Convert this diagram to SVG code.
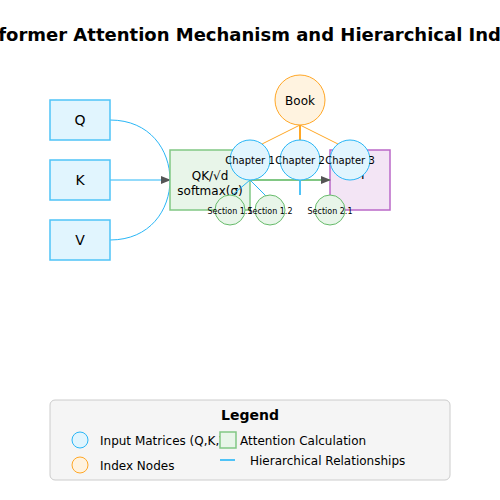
<svg xmlns="http://www.w3.org/2000/svg" width="500" height="500" viewBox="0 0 500 500">
<defs>
<style>
text{font-family:"DejaVu Sans","Liberation Sans",sans-serif;fill:#000}
.title{font-size:18px;font-weight:bold;text-anchor:middle}
.in{fill:#e1f5fe;stroke:#4fc3f7;stroke-width:1.5}
.lbl{font-size:14px;text-anchor:middle}
.att{fill:#e8f5e9;stroke:#81c784;stroke-width:1.5}
.out{fill:#f3e5f5;stroke:#ba68c8;stroke-width:1.5}
.book{fill:#fff3e0;stroke:#ffa726;stroke-width:1}
.ch{fill:#e1f5fe;stroke:#29b6f6;stroke-width:1}
.sec{fill:#e8f5e9;stroke:#66bb6a;stroke-width:1}
.qkv{fill:none;stroke:#29b6f6;stroke-width:1}
.ol{stroke:#ffa726;stroke-width:1}
.bl{stroke:#29b6f6;stroke-width:1}
.lg{font-size:12px}
</style>
<marker id="arr" markerWidth="10" markerHeight="8" refX="9" refY="4" orient="auto" markerUnits="userSpaceOnUse">
<path d="M0,0 L10,4 L0,8 Z" fill="#555"/>
</marker>
</defs>
<rect width="500" height="500" fill="#fff"/>
<text class="title" x="250" y="41">Transformer Attention Mechanism and Hierarchical Indexing</text>

<g id="connectors">
<path class="qkv" d="M110,120 C150,120 170,150 170,180"/>
<line class="qkv" x1="110" y1="180" x2="170" y2="180" marker-end="url(#arr)"/>
<path class="qkv" d="M110,240 C150,240 170,210 170,180"/>
</g>

<g id="node-Q"><rect class="in" x="50" y="100" width="60" height="40"/><text class="lbl" x="80" y="125">Q</text></g>
<g id="node-K"><rect class="in" x="50" y="160" width="60" height="40"/><text class="lbl" x="80" y="185">K</text></g>
<g id="node-V"><rect class="in" x="50" y="220" width="60" height="40"/><text class="lbl" x="80" y="245">V</text></g>

<g id="node-attention"><rect class="att" x="170" y="150" width="80" height="60"/>
<text x="210" y="180" style="font-size:12px;text-anchor:middle">QK/√d</text>
<text x="210" y="195" style="font-size:12px;text-anchor:middle">softmax(σ)</text></g>

<g id="node-output"><rect class="out" x="330" y="150" width="60" height="60"/>
<text x="360" y="179" style="font-size:12px;text-anchor:middle">H</text></g>

<g id="connectors-2">
<line x1="250" y1="180" x2="330" y2="180" stroke="#81c784" stroke-width="2" marker-end="url(#arr)"/>
<line class="ol" x1="300" y1="125" x2="260" y2="145"/>
<line x1="300" y1="125" x2="300" y2="145" stroke="#ffa726" stroke-width="2"/>
<line class="ol" x1="300" y1="125" x2="340" y2="145"/>
<line class="bl" x1="250" y1="180" x2="230" y2="197"/>
<line class="bl" x1="250" y1="180" x2="266" y2="196"/>
<line x1="300" y1="180" x2="300" y2="195" stroke="#4fc3f7" stroke-width="2"/>
</g>

<g id="node-book"><circle class="book" cx="300" cy="100" r="25"/><text x="300" y="105" style="font-size:12px;text-anchor:middle">Book</text></g>
<g id="node-ch1"><circle class="ch" cx="250" cy="160" r="20"/><text x="250" y="164" style="font-size:10px;text-anchor:middle">Chapter 1</text></g>
<g id="node-ch2"><circle class="ch" cx="300" cy="160" r="20"/><text x="300" y="164" style="font-size:10px;text-anchor:middle">Chapter 2</text></g>
<g id="node-ch3"><circle class="ch" cx="350" cy="160" r="20"/><text x="350" y="164" style="font-size:10px;text-anchor:middle">Chapter 3</text></g>
<g id="node-s11"><circle class="sec" cx="230" cy="210" r="15"/><text x="230" y="214" style="font-size:8px;text-anchor:middle">Section 1.1</text></g>
<g id="node-s12"><circle class="sec" cx="270" cy="210" r="15"/><text x="270" y="214" style="font-size:8px;text-anchor:middle">Section 1.2</text></g>
<g id="node-s21"><circle class="sec" cx="330" cy="210" r="15"/><text x="330" y="214" style="font-size:8px;text-anchor:middle">Section 2.1</text></g>

<g id="legend">
<rect x="50" y="400" width="400" height="80" rx="5" fill="#f5f5f5" stroke="#ccc" stroke-width="1"/>
<text x="250" y="420" style="font-size:14px;font-weight:bold;text-anchor:middle">Legend</text>
<circle class="ch" cx="80" cy="440" r="8"/>
<text class="lg" x="100" y="445">Input Matrices (Q,K,V)</text>
<rect class="att" x="220" y="432" width="16" height="16"/>
<text class="lg" x="240" y="445">Attention Calculation</text>
<circle class="book" cx="80" cy="465" r="8"/>
<text class="lg" x="100" y="470">Index Nodes</text>
<line x1="220" y1="460" x2="235" y2="460" stroke="#4fc3f7" stroke-width="2"/>
<text class="lg" x="250" y="465">Hierarchical Relationships</text>
</g>
</svg>
